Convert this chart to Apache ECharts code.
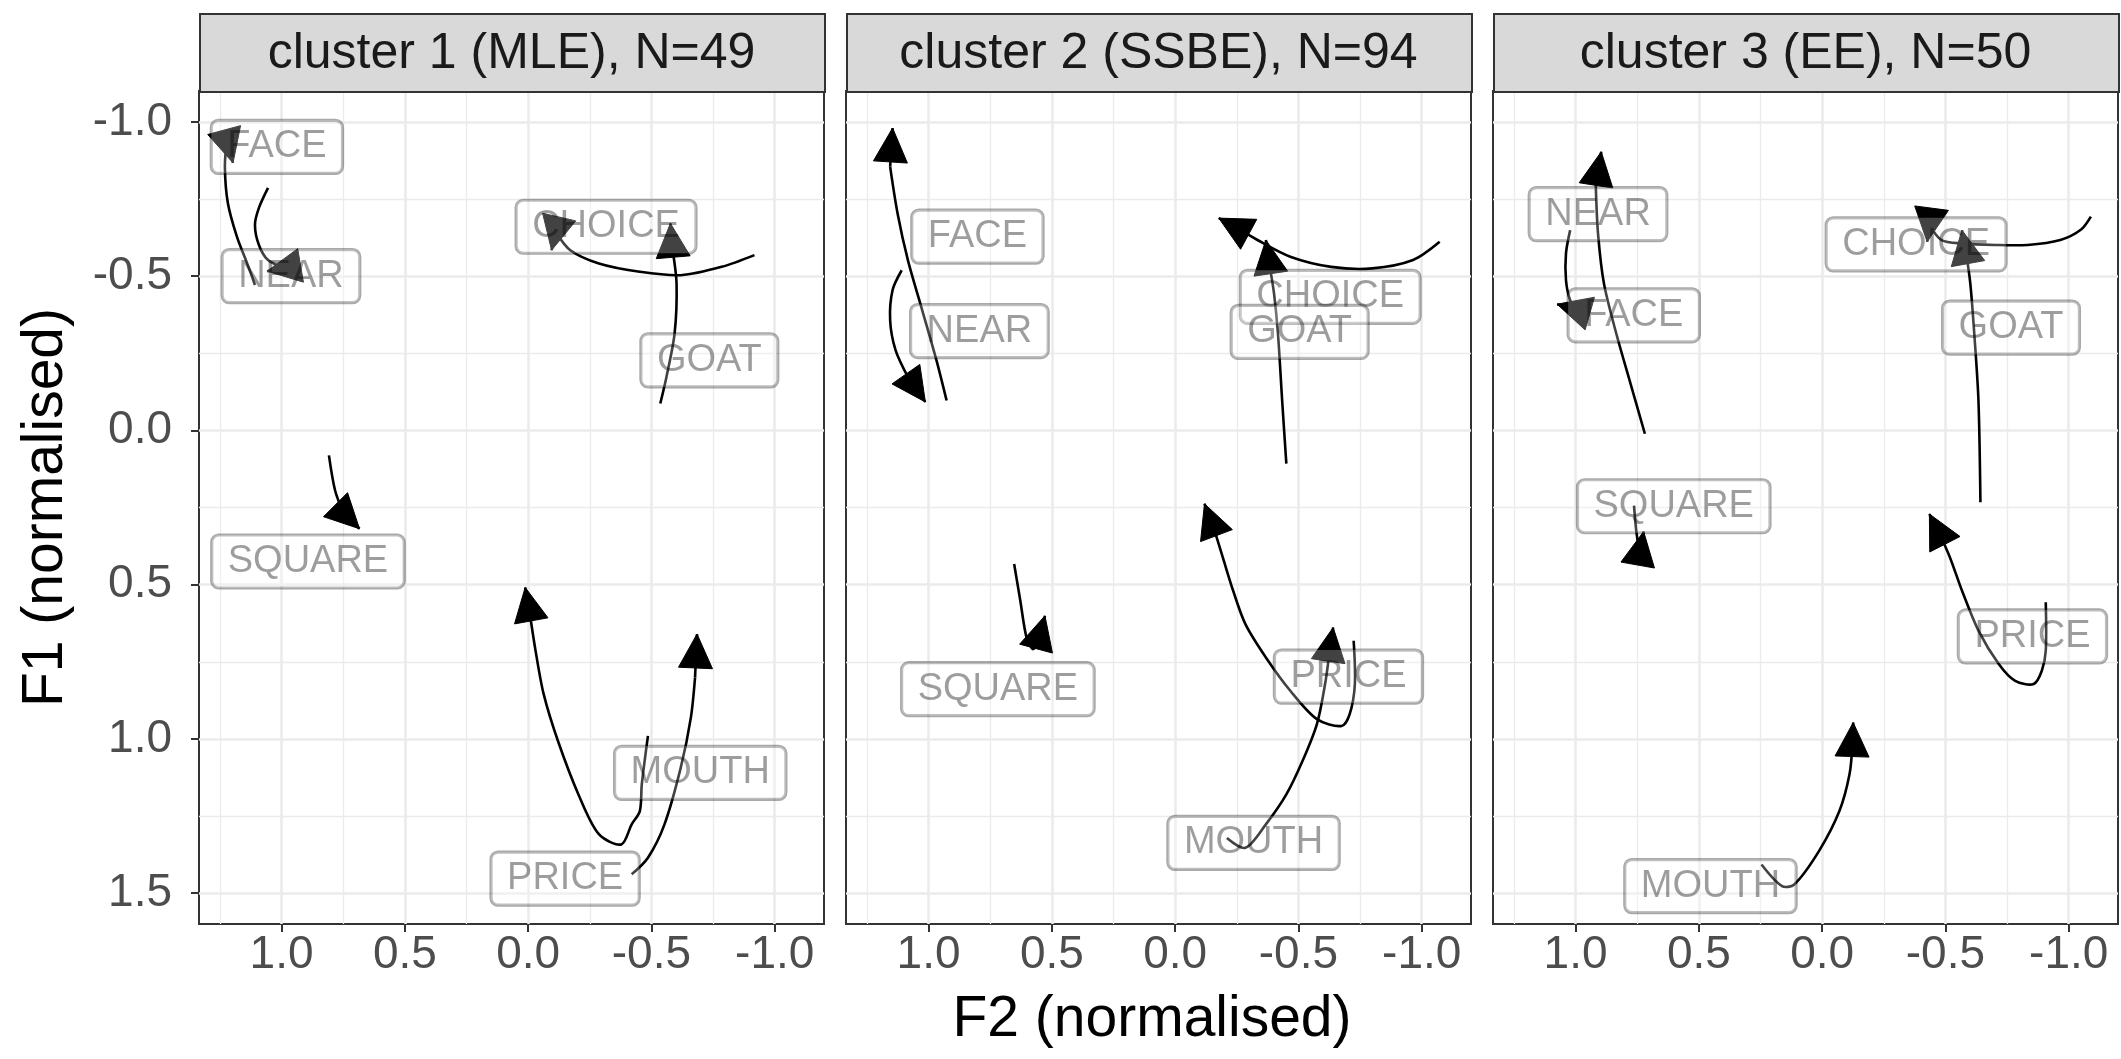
<!DOCTYPE html>
<html>
<head>
<meta charset="utf-8">
<script src="https://cdn.jsdelivr.net/npm/echarts@6/dist/echarts.min.js"></script>
<style>
html,body{margin:0;padding:0;background:#fff;}
#chart{width:2121px;height:1059px;}
</style>
</head>
<body>
<div id="chart"></div>
<script>
// ---------- DATA ----------
const clusterTitles = ['cluster 1 (MLE), N=49', 'cluster 2 (SSBE), N=94', 'cluster 3 (EE), N=50'];
const vowels = ['FACE', 'NEAR', 'CHOICE', 'GOAT', 'SQUARE', 'PRICE', 'MOUTH'];
const xTicks = [1.0, 0.5, 0.0, -0.5, -1.0];          // F2 (normalised)
const yTicks = [-1.0, -0.5, 0.0, 0.5, 1.0, 1.5];     // F1 (normalised)

// trajectories: [F2, F1] points, start -> end (arrow at end)
const tracksMLE = {
  FACE:   [[1.108,-0.471],[1.140,-0.542],[1.181,-0.627],[1.218,-0.737],[1.230,-0.854],[1.222,-0.941],[1.197,-0.867]],
  NEAR:   [[1.055,-0.786],[1.092,-0.721],[1.108,-0.666],[1.092,-0.601],[1.055,-0.552],[0.986,-0.526],[1.059,-0.516]],
  CHOICE: [[-0.918,-0.568],[-0.785,-0.530],[-0.619,-0.503],[-0.453,-0.514],[-0.287,-0.541],[-0.171,-0.584],[-0.112,-0.643],[-0.095,-0.584]],
  GOAT:   [[-0.536,-0.087],[-0.561,-0.173],[-0.594,-0.314],[-0.602,-0.476],[-0.586,-0.584],[-0.577,-0.671]],
  SQUARE: [[0.808,0.081],[0.783,0.195],[0.750,0.266],[0.684,0.319]],
  PRICE:  [[-0.486,0.990],[-0.461,1.147],[-0.453,1.234],[-0.420,1.277],[-0.378,1.342],[-0.287,1.309],[-0.204,1.180],[-0.121,1.007],[-0.063,0.855],[-0.030,0.714],[-0.005,0.584],[0.012,0.509]],
  MOUTH:  [[-0.420,1.439],[-0.486,1.385],[-0.553,1.277],[-0.619,1.093],[-0.660,0.931],[-0.677,0.801],[-0.685,0.660]]
};
const tracksSSBE = {
  FACE:   [[0.927,-0.097],[0.968,-0.227],[1.026,-0.390],[1.084,-0.552],[1.126,-0.704],[1.156,-0.855],[1.146,-0.980]],
  NEAR:   [[1.109,-0.519],[1.146,-0.455],[1.156,-0.357],[1.134,-0.260],[1.084,-0.173],[1.013,-0.092]],
  CHOICE: [[-1.073,-0.611],[-0.965,-0.552],[-0.799,-0.525],[-0.633,-0.530],[-0.467,-0.563],[-0.334,-0.617],[-0.251,-0.656],[-0.177,-0.688]],
  GOAT:   [[-0.451,0.108],[-0.434,-0.097],[-0.417,-0.314],[-0.401,-0.444],[-0.384,-0.530],[-0.368,-0.617]],
  SQUARE: [[0.653,0.433],[0.628,0.552],[0.603,0.671],[0.578,0.709],[0.561,0.698],[0.528,0.601]],
  PRICE:  [[-0.724,0.682],[-0.729,0.822],[-0.708,0.920],[-0.675,0.958],[-0.575,0.936],[-0.467,0.844],[-0.368,0.736],[-0.285,0.628],[-0.235,0.519],[-0.193,0.411],[-0.160,0.325],[-0.119,0.238]],
  MOUTH:  [[-0.210,1.321],[-0.285,1.353],[-0.368,1.277],[-0.451,1.180],[-0.517,1.071],[-0.575,0.952],[-0.608,0.823],[-0.625,0.725],[-0.641,0.639]]
};
const tracksEE = {
  FACE:   [[0.719,0.011],[0.777,-0.151],[0.835,-0.314],[0.885,-0.476],[0.909,-0.638],[0.918,-0.790],[0.896,-0.903]],
  NEAR:   [[1.022,-0.649],[1.039,-0.574],[1.039,-0.487],[1.022,-0.422],[0.992,-0.390],[1.075,-0.409]],
  CHOICE: [[-1.090,-0.693],[-1.049,-0.650],[-0.966,-0.617],[-0.833,-0.601],[-0.700,-0.601],[-0.567,-0.606],[-0.484,-0.617],[-0.435,-0.666],[-0.426,-0.611]],
  GOAT:   [[-0.642,0.233],[-0.634,-0.097],[-0.617,-0.314],[-0.601,-0.476],[-0.584,-0.574],[-0.567,-0.649]],
  SQUARE: [[0.763,0.244],[0.754,0.325],[0.740,0.400],[0.724,0.328]],
  PRICE:  [[-0.907,0.557],[-0.907,0.714],[-0.891,0.779],[-0.858,0.822],[-0.783,0.812],[-0.717,0.758],[-0.634,0.649],[-0.567,0.519],[-0.518,0.411],[-0.476,0.335],[-0.435,0.271]],
  MOUTH:  [[0.246,1.407],[0.163,1.477],[0.113,1.472],[0.013,1.364],[-0.070,1.234],[-0.111,1.115],[-0.123,1.017],[-0.126,0.947]]
};

// label positions [F2, F1]
const labelsMLE  = {FACE:[1.019,-0.919], NEAR:[0.962,-0.500], CHOICE:[-0.316,-0.660], GOAT:[-0.735,-0.227], SQUARE:[0.893,0.425], PRICE:[-0.150,1.453], MOUTH:[-0.698,1.110]};
const labelsSSBE = {FACE:[0.802,-0.628], NEAR:[0.794,-0.322], CHOICE:[-0.629,-0.433], GOAT:[-0.505,-0.319], SQUARE:[0.719,0.839], PRICE:[-0.703,0.798], MOUTH:[-0.318,1.337]};
const labelsEE   = {FACE:[0.764,-0.373], NEAR:[0.909,-0.701], CHOICE:[-0.381,-0.603], GOAT:[-0.766,-0.333], SQUARE:[0.602,0.246], PRICE:[-0.853,0.668], MOUTH:[0.453,1.477]};

const allTracks = [tracksMLE, tracksSSBE, tracksEE];
const allLabels = [labelsMLE, labelsSSBE, labelsEE];

// ---------- LAYOUT / STYLE ----------
const FONT = '"Liberation Sans", Arial, Helvetica, sans-serif';
const panelLeft = [199, 846, 1493];
const panelW = 625, panelTop = 91, panelH = 833;
const xRange = [-1.2, 1.335], yRange = [-1.1, 1.6];
const gridColor = '#EBEBEB';

const chart = echarts.init(document.getElementById('chart'), null, {renderer: 'canvas'});

const grids = [], xAxes = [], yAxes = [], series = [], graphics = [];

for (let p = 0; p < 3; p++) {
  grids.push({left: panelLeft[p], top: panelTop, width: panelW, height: panelH,
    show: true, backgroundColor: '#fff', borderColor: '#333333', borderWidth: 2});
  xAxes.push({
    type: 'value', gridIndex: p, min: xRange[0], max: xRange[1], inverse: true, splitNumber: 5,
    axisLine: {show: false, onZero: false},
    axisTick: {show: true, length: 8, lineStyle: {color: '#333', width: 2}, customValues: xTicks},
    axisLabel: {show: true, customValues: xTicks,
      fontSize: 46, fontFamily: FONT, color: '#4D4D4D', margin: 8,
      formatter: v => v.toFixed(1)},
    splitLine: {show: true, lineStyle: {color: gridColor, width: 2.6}},
    minorTick: {show: false, splitNumber: 2},
    minorSplitLine: {show: true, lineStyle: {color: gridColor, width: 1.3}}
  });
  yAxes.push({
    type: 'value', gridIndex: p, min: yRange[0], max: yRange[1], inverse: true, splitNumber: 5,
    axisLine: {show: false, onZero: false},
    axisTick: {show: p === 0, length: 8, lineStyle: {color: '#333', width: 2}, customValues: yTicks},
    axisLabel: {show: p === 0, customValues: yTicks,
      fontSize: 46, fontFamily: FONT, color: '#4D4D4D', margin: 27,
      formatter: v => v.toFixed(1)},
    splitLine: {show: true, lineStyle: {color: gridColor, width: 2.6}},
    minorTick: {show: false, splitNumber: 2},
    minorSplitLine: {show: true, lineStyle: {color: gridColor, width: 1.3}}
  });

  // trajectories
  vowels.forEach(v => {
    const pts = allTracks[p][v];
    series.push({
      type: 'custom', xAxisIndex: p, yAxisIndex: p, z: 3, clip: true, silent: true,
      data: pts, encode: {x: 0, y: 1},
      renderItem: function (params, api) {
        if (params.dataIndex !== 0) return null;
        const px = pts.map(q => api.coord(q));
        const n = px.length;
        const tip = px[n - 1], prev = px[n - 2];
        let dx = tip[0] - prev[0], dy = tip[1] - prev[1];
        const len = Math.hypot(dx, dy) || 1; dx /= len; dy /= len;
        const L = 34, W = 17;
        const bx = tip[0] - dx * L, by = tip[1] - dy * L;
        const head = [[tip[0], tip[1]], [bx - dy * W, by + dx * W], [bx + dy * W, by - dx * W]];
        return {type: 'group', children: [
          {type: 'polyline', shape: {points: px.slice(0, n - 1), smooth: 0.3},
            style: {stroke: '#000', lineWidth: 2.6, fill: null}},
          {type: 'polyline', shape: {points: [prev, tip]},
            style: {stroke: '#000', lineWidth: 2.6, fill: null}},
          {type: 'polygon', shape: {points: head}, style: {fill: '#000', stroke: '#000', lineWidth: 1}}
        ]};
      }
    });
  });

  // labels
  series.push({
    type: 'scatter', xAxisIndex: p, yAxisIndex: p, z: 6, silent: true,
    symbolSize: 1, itemStyle: {color: 'rgba(0,0,0,0)'},
    data: vowels.map(v => ({name: v, value: allLabels[p][v]})),
    label: {show: true, position: 'inside', formatter: '{b}',
      fontSize: 38, fontFamily: FONT, color: 'rgba(0,0,0,0.48)', lineHeight: 40,
      backgroundColor: 'rgba(255,255,255,0.32)', borderColor: 'rgba(0,0,0,0.42)', borderWidth: 1.6,
      borderRadius: 7, padding: [7, 16, 6, 16]},
    labelLayout: {hideOverlap: false}
  });

  // strip
  graphics.push({type: 'rect', left: panelLeft[p], top: 13, z: 10,
    shape: {width: panelW, height: panelTop - 13},
    style: {fill: '#D9D9D9', stroke: '#333333', lineWidth: 2}});
  graphics.push({type: 'text', x: panelLeft[p] + panelW / 2, y: 54, z: 11,
    style: {text: clusterTitles[p], fontSize: 50, fontFamily: FONT, fill: '#1A1A1A',
      align: 'center', verticalAlign: 'middle'}});
}

// axis titles
graphics.push({type: 'text', x: 1152, y: 1020, z: 11,
  style: {text: 'F2 (normalised)', fontSize: 57, fontFamily: FONT, fill: '#000', align: 'center', verticalAlign: 'middle'}});
graphics.push({type: 'text', x: 46, y: panelTop + panelH / 2, rotation: Math.PI / 2, z: 11,
  style: {text: 'F1 (normalised)', fontSize: 57, fontFamily: FONT, fill: '#000', align: 'center', verticalAlign: 'middle'}});

chart.setOption({
  backgroundColor: '#fff',
  animation: false,
  grid: grids, xAxis: xAxes, yAxis: yAxes, series: series, graphic: graphics
});
</script>
</body>
</html>
